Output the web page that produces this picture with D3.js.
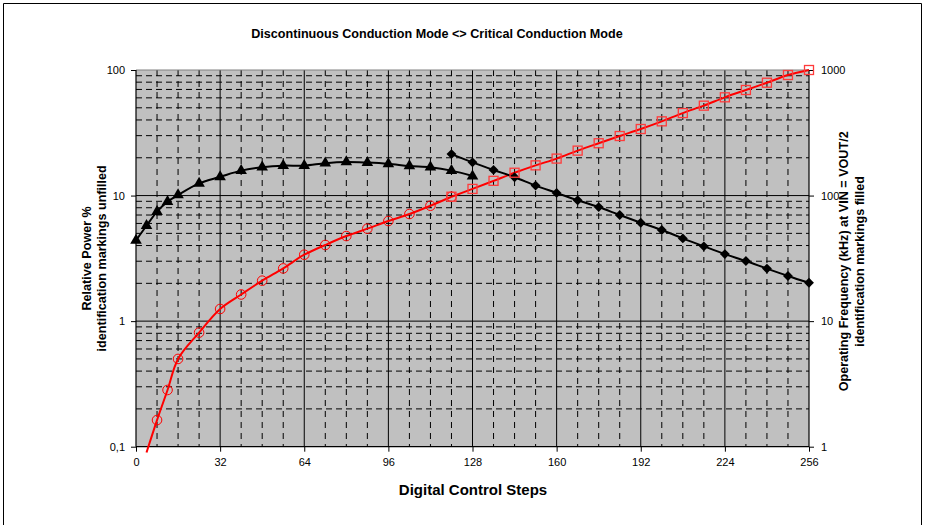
<!DOCTYPE html>
<html>
<head>
  <meta charset="utf-8">
  <style>
    html, body {
      margin: 0;
      padding: 0;
      background: #fff;
      width: 100%;
      height: 100%;
      overflow: hidden;
      font-family: "Liberation Sans", Arial, sans-serif;
    }
    svg { display: block; }
    .tick text { font-family: "Liberation Sans", Arial, sans-serif; font-size: 11px; fill: #000; }
    .domain { display: none; }
    .tick line { stroke: #000; }
  </style>
</head>
<body>
  <svg width="925" height="525"></svg>

  <script src="https://d3js.org/d3.v7.min.js"></script>
  <script>
    // digital control steps for each series
    const triSteps = [0, 4, 8, 12, 16, 24, 32, 40, 48, 56, 64, 72, 80, 88, 96, 104, 112, 120, 128];
    const triKHz   = [44, 57.5, 74.5, 89.5, 101, 125, 141, 158, 168, 173, 173, 181, 185, 183, 179, 172, 168, 158, 143];

    const diaSteps = [120, 128, 136, 144, 152, 160, 168, 176, 184, 192, 200, 208, 216, 224, 232, 240, 248, 256];
    const diaKHz   = [214, 184, 160, 140, 120, 105, 91.7, 81, 70, 60.8, 53.2, 45.6, 39.4, 34.2, 30.1, 26.2, 22.9, 20.2];

    const cirSteps = [4, 8, 12, 16, 24, 32, 40, 48, 56, 64, 72, 80, 88, 96, 104, 112, 120];
    const cirPower = [0.09, 0.163, 0.283, 0.5, 0.81, 1.25, 1.63, 2.1, 2.63, 3.38, 4.04, 4.76, 5.45, 6.27, 7.13, 8.3, 9.79];

    const sqSteps = [120, 128, 136, 144, 152, 160, 168, 176, 184, 192, 200, 208, 216, 224, 232, 240, 248, 256];
    const sqPower = [9.79, 11.3, 13.1, 15.2, 17.4, 19.7, 22.8, 26.1, 29.8, 33.9, 39.0, 45.4, 52.0, 60.6, 69.3, 79.2, 91.2, 100];

    const xTicks = [0, 32, 64, 96, 128, 160, 192, 224, 256];
    const leftTicks = [0.1, 1, 10, 100];
    const rightTicks = [1, 10, 100, 1000];

    const title = "Discontinuous Conduction Mode <> Critical Conduction Mode";
    const xTitle = "Digital Control Steps";
    const leftTitle = ["Relative Power %", "identification markings unfilled"];
    const rightTitle = ["Operating Frequency (kHz) at VIN = VOUT/2", "identification markings filled"];

    const svg = d3.select("svg");
    const L = 136, R = 809, T = 70, B = 446.7;

    const x = d3.scaleLinear().domain([0, 256]).range([L, R]);
    const yL = d3.scaleLog().domain([0.1, 100]).range([B, T]);
    const yR = d3.scaleLog().domain([1, 1000]).range([B, T]);
    const comma = d3.formatLocale({decimal: ",", thousands: ".", grouping: [3], currency: ["", ""]});

    // outer frame
    svg.append("path")
      .attr("d", "M3.5,525V3.5H921.5V525")
      .attr("fill", "none").attr("stroke", "#000").attr("stroke-width", 1);

    // plot background
    svg.append("rect")
      .attr("x", L).attr("y", T).attr("width", R - L).attr("height", B - T)
      .attr("fill", "#c0c0c0");

    const grid = svg.append("g");
    // minor verticals every 8 steps
    const minorX = d3.range(8, 256, 8).filter(d => d % 32 !== 0);
    grid.selectAll(".vminor").data(minorX).join("line")
      .attr("x1", d => x(d)).attr("x2", d => x(d)).attr("y1", T).attr("y2", B)
      .attr("stroke", "#000").attr("stroke-width", 1).attr("stroke-dasharray", "6,5");
    // minor horizontals 2..9 in each decade
    const minorY = [];
    [0.1, 1, 10].forEach(dec => { for (let k = 2; k <= 9; k++) minorY.push(dec * k); });
    grid.selectAll(".hminor").data(minorY).join("line")
      .attr("x1", L).attr("x2", R).attr("y1", d => yL(d)).attr("y2", d => yL(d))
      .attr("stroke", "#000").attr("stroke-width", 1).attr("stroke-dasharray", "6,4");
    // major grid
    grid.selectAll(".vmajor").data(xTicks.slice(1, -1)).join("line")
      .attr("x1", d => x(d)).attr("x2", d => x(d)).attr("y1", T).attr("y2", B)
      .attr("stroke", "#000").attr("stroke-width", 1);
    grid.selectAll(".hmajor").data([1, 10]).join("line")
      .attr("x1", L).attr("x2", R).attr("y1", d => yL(d)).attr("y2", d => yL(d))
      .attr("stroke", "#000").attr("stroke-width", 1);

    // plot border
    svg.append("line").attr("x1", L).attr("x2", R).attr("y1", T).attr("y2", T)
      .attr("stroke", "#808080").attr("stroke-width", 1);
    svg.append("line").attr("x1", L).attr("x2", L).attr("y1", T).attr("y2", B)
      .attr("stroke", "#000").attr("stroke-width", 1.2);
    svg.append("line").attr("x1", R).attr("x2", R).attr("y1", T).attr("y2", B)
      .attr("stroke", "#000").attr("stroke-width", 1.2);
    svg.append("line").attr("x1", L).attr("x2", R).attr("y1", B).attr("y2", B)
      .attr("stroke", "#000").attr("stroke-width", 1.2);

    // axes
    svg.append("g").attr("transform", `translate(0,${B})`)
      .call(d3.axisBottom(x).tickValues(xTicks).tickSize(5).tickPadding(7).tickFormat(d3.format("d")));
    svg.append("g").attr("transform", `translate(${L},0)`)
      .call(d3.axisLeft(yL).tickValues(leftTicks).tickSize(5).tickPadding(6)
        .tickFormat(d => d < 1 ? comma.format(".1f")(d) : d3.format("d")(d)));
    svg.append("g").attr("transform", `translate(${R},0)`)
      .call(d3.axisRight(yR).tickValues(rightTicks).tickSize(5).tickPadding(7).tickFormat(d3.format("d")));

    // series
    const smooth = d3.curveCatmullRom.alpha(0.5);

    const tri = triSteps.map((s, i) => ({s, v: triKHz[i]}));
    const dia = diaSteps.map((s, i) => ({s, v: diaKHz[i]}));
    const cir = cirSteps.map((s, i) => ({s, v: cirPower[i]}));
    const sq = sqSteps.map((s, i) => ({s, v: sqPower[i]}));

    const lineR = d3.line().x(d => x(d.s)).y(d => yR(d.v)).curve(smooth);
    const lineL = d3.line().x(d => x(d.s)).y(d => yL(d.v)).curve(smooth);

    svg.append("path").attr("d", lineL(cir)).attr("fill", "none").attr("stroke", "#ff0000").attr("stroke-width", 2);
    svg.append("path").attr("d", lineL(sq)).attr("fill", "none").attr("stroke", "#ff0000").attr("stroke-width", 2);
    svg.append("path").attr("d", lineR(tri)).attr("fill", "none").attr("stroke", "#000").attr("stroke-width", 2);
    svg.append("path").attr("d", lineR(dia)).attr("fill", "none").attr("stroke", "#000").attr("stroke-width", 2);

    const triSym = d3.symbol().type(d3.symbolTriangle).size(58);
    const diaSym = d3.symbol().type(d3.symbolDiamond2).size(62);

    svg.append("g").selectAll("path").data(tri).join("path")
      .attr("transform", d => `translate(${x(d.s)},${yR(d.v)})`)
      .attr("d", triSym).attr("fill", "#000");
    svg.append("g").selectAll("path").data(dia).join("path")
      .attr("transform", d => `translate(${x(d.s)},${yR(d.v)})`)
      .attr("d", diaSym).attr("fill", "#000");

    svg.append("g").selectAll("circle").data(cir.filter(d => d.v >= 0.1)).join("circle")
      .attr("cx", d => x(d.s)).attr("cy", d => yL(d.v)).attr("r", 4.8)
      .attr("fill", "none").attr("stroke", "#ff0000").attr("stroke-width", 1);
    svg.append("g").selectAll("rect").data(sq).join("rect")
      .attr("x", d => x(d.s) - 4.5).attr("y", d => yL(d.v) - 4.5)
      .attr("width", 9).attr("height", 9)
      .attr("fill", "none").attr("stroke", "#ff3b3b").attr("stroke-width", 1.3);

    // titles
    svg.append("text").attr("x", 437).attr("y", 37.5).attr("text-anchor", "middle")
      .style("font-size", "12.6px").style("font-weight", "bold").text(title);
    svg.append("text").attr("x", 473).attr("y", 494.5).attr("text-anchor", "middle")
      .style("font-size", "15px").style("font-weight", "bold").text(xTitle);

    const cy = (T + B) / 2;
    svg.append("g").attr("transform", `translate(90.5,${cy}) rotate(-90)`)
      .selectAll("text").data(leftTitle).join("text")
      .attr("y", (d, i) => i * 15).attr("text-anchor", "middle")
      .style("font-size", "12.6px").style("font-weight", "bold").text(d => d);
    svg.append("g").attr("transform", `translate(847.5,${cy + 3}) rotate(-90)`)
      .selectAll("text").data(rightTitle).join("text")
      .attr("y", (d, i) => i * 16.5).attr("text-anchor", "middle")
      .style("font-size", "12.6px").style("font-weight", "bold").text(d => d);
  </script>
</body>
</html>
